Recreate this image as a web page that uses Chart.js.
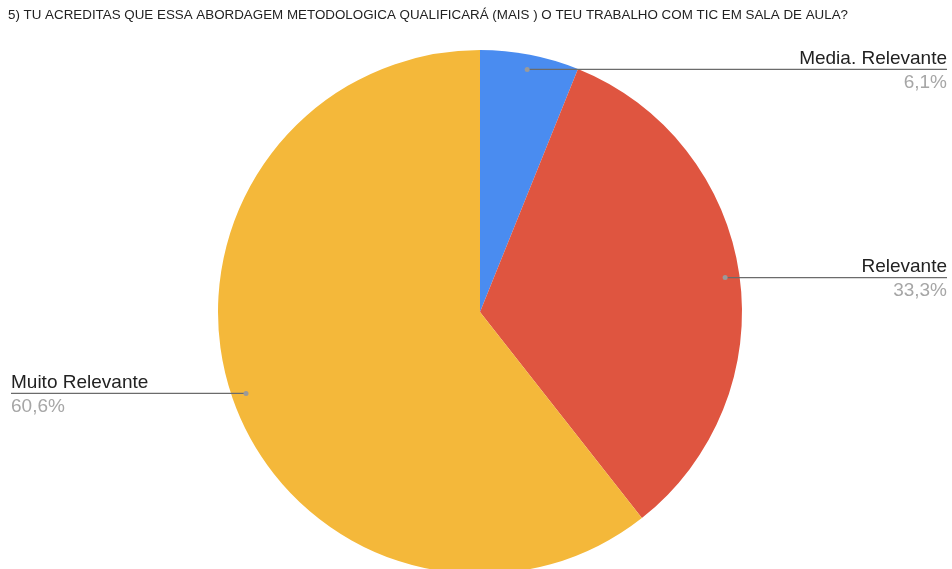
<!DOCTYPE html>
<html>
<head>
<meta charset="utf-8">
<script src="https://cdn.jsdelivr.net/npm/chart.js@4"></script>
<style>
  html, body { margin: 0; padding: 0; background: #fff; overflow: hidden; }
  #wrap { width: 952px; height: 569px; overflow: hidden; }
</style>
</head>
<body>
<div id="wrap"><canvas id="c" width="952" height="620"></canvas></div>
<script>
const titleText = "5) TU ACREDITAS QUE ESSA ABORDAGEM METODOLOGICA QUALIFICARÁ (MAIS ) O TEU TRABALHO COM TIC EM SALA DE AULA?";
const categories = ["Media. Relevante", "Relevante", "Muito Relevante"];
const percentages = [6.1, 33.3, 60.6];
const percentLabels = ["6,1%", "33,3%", "60,6%"];
const sliceColors = ["#4a8cf0", "#df5540", "#f4b83a"];

const FONT = "'Liberation Sans', Arial, sans-serif";

// Title plus leader lines with category / percentage labels
const calloutPlugin = {
  id: "callouts",
  afterDraw(chart) {
    const ctx = chart.ctx;
    const W = chart.width;
    ctx.save();
    // title, stretched slightly wide
    ctx.fillStyle = "#222";
    ctx.font = "12px " + FONT;
    ctx.textAlign = "left";
    ctx.textBaseline = "alphabetic";
    const tw = ctx.measureText(titleText).width;
    ctx.save();
    ctx.translate(8, 19);
    ctx.scale(840 / tw, 1);
    ctx.fillText(titleText, 0, 0);
    ctx.restore();

    const meta = chart.getDatasetMeta(0);
    meta.data.forEach((arc, i) => {
      const p = arc.getProps(["x", "y", "startAngle", "endAngle", "outerRadius"], true);
      const mid = (p.startAngle + p.endAngle) / 2;
      const r = p.outerRadius * 0.945;
      const dx = p.x + Math.cos(mid) * r;
      const dy = p.y + Math.sin(mid) * r;
      const right = dx >= p.x;
      const edge = right ? W - 5 : 11;

      ctx.strokeStyle = "#6b6b6b";
      ctx.lineWidth = 1.2;
      ctx.beginPath();
      ctx.moveTo(dx, dy + 0.5);
      ctx.lineTo(edge, dy + 0.5);
      ctx.stroke();

      ctx.fillStyle = "#9a9a9a";
      ctx.beginPath();
      ctx.arc(dx, dy + 0.5, 2.5, 0, Math.PI * 2);
      ctx.fill();

      ctx.textAlign = right ? "right" : "left";
      ctx.font = "19px " + FONT;
      ctx.fillStyle = "#222";
      ctx.fillText(categories[i], edge, dy - 5);
      ctx.fillStyle = "#a6a6a6";
      ctx.fillText(percentLabels[i], edge, dy + 19);
    });
    ctx.restore();
  }
};

new Chart(document.getElementById("c"), {
  type: "pie",
  data: {
    labels: categories,
    datasets: [{
      data: percentages,
      backgroundColor: sliceColors,
      borderWidth: 0
    }]
  },
  options: {
    responsive: false,
    animation: false,
    devicePixelRatio: 1,
    layout: { padding: { top: 50, bottom: 46, left: 8, right: 0 } },
    plugins: {
      legend: { display: false },
      tooltip: { enabled: false },
      title: { display: false }
    }
  },
  plugins: [calloutPlugin]
});
</script>
</body>
</html>
